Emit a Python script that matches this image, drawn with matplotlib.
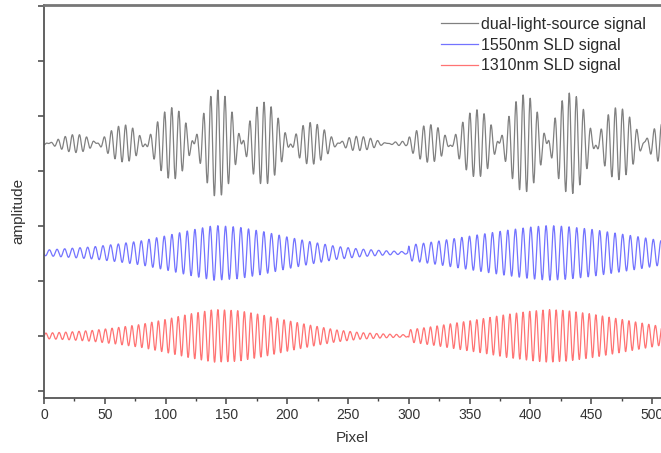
import numpy as np
import matplotlib
matplotlib.use("Agg")
import matplotlib.pyplot as plt
from matplotlib.ticker import MultipleLocator, NullFormatter

# Envelope amplitudes, for the two scan windows
seg1_pixel = [0, 20, 40, 60, 80, 100, 120, 140, 160, 180, 200, 220, 240, 260, 280, 299]
seg1_blue = [0.05, 0.08, 0.11, 0.16, 0.22, 0.31, 0.41, 0.50, 0.47, 0.39, 0.29, 0.20, 0.12, 0.07, 0.04, 0.02]
seg1_red = [0.05, 0.07, 0.10, 0.15, 0.21, 0.30, 0.40, 0.48, 0.46, 0.38, 0.28, 0.19, 0.11, 0.06, 0.035, 0.02]
seg2_pixel = [300, 320, 340, 360, 380, 400, 415, 430, 450, 470, 490, 508]
seg2_blue = [0.14, 0.20, 0.27, 0.34, 0.41, 0.47, 0.50, 0.48, 0.43, 0.36, 0.29, 0.22]
seg2_red = [0.11, 0.17, 0.24, 0.31, 0.39, 0.45, 0.48, 0.46, 0.40, 0.32, 0.24, 0.17]

# Fringe periods (pixels) and positions where both fringes are in phase
period_1550 = 6.3
period_1310 = 5.44
in_phase = [143, 394]

# Vertical offsets of the three traces
offset_dual, offset_1550, offset_1310 = 4.5, 2.51, 1.0

labels = ["dual-light-source signal", "1550nm SLD signal", "1310nm SLD signal"]
colors = ["#808080", "#7373ff", "#ff7373"]


def fringe(pix, env, period, centre):
    x = np.arange(pix[0], pix[-1] + 0.2, 0.2)
    e = np.interp(x, pix, env)
    return x, e * np.cos(2 * np.pi * (x - centre) / period)


xs, blue, red = [], [], []
for pix, eb, er, c in [(seg1_pixel, seg1_blue, seg1_red, in_phase[0]),
                       (seg2_pixel, seg2_blue, seg2_red, in_phase[1])]:
    x, b = fringe(pix, eb, period_1550, c)
    _, r = fringe(pix, er, period_1310, c)
    xs.append(x)
    blue.append(b)
    red.append(r)
x = np.concatenate(xs)
blue = np.concatenate(blue)
red = np.concatenate(red)
dual = blue + red

plt.rcParams["font.family"] = ["Liberation Sans", "DejaVu Sans"]

fig = plt.figure(figsize=(6.61, 4.53), dpi=100)
ax = fig.add_axes([44 / 661, 55 / 453, 1 - 44 / 661, 393 / 453])

ax.plot(x, dual + offset_dual, color=colors[0], lw=0.9, label=labels[0])
ax.plot(x, blue + offset_1550, color=colors[1], lw=0.9, label=labels[1])
ax.plot(x, red + offset_1310, color=colors[2], lw=0.9, label=labels[2])

ax.set_xlim(0, 507.4)
ax.set_ylim(-0.13, 7.02)
ax.xaxis.set_major_locator(MultipleLocator(50))
ax.xaxis.set_minor_locator(MultipleLocator(25))
ax.yaxis.set_major_locator(MultipleLocator(1))
ax.yaxis.set_major_formatter(NullFormatter())
ax.tick_params(axis="both", which="major", direction="out", length=4,
               width=1.1, color="#444444", labelsize=10, labelcolor="#333333")
ax.tick_params(axis="x", which="minor", direction="out", length=2.5,
               width=1.0, color="#444444")

for side in ["left", "bottom"]:
    ax.spines[side].set_color("#555555")
    ax.spines[side].set_linewidth(1.3)
ax.spines["top"].set_color("#777777")
ax.spines["top"].set_linewidth(2.0)
ax.spines["right"].set_visible(False)

ax.set_xlabel("Pixel", fontsize=11, color="#333333", labelpad=6)
ax.set_ylabel("amplitude", fontsize=11, color="#333333")
ax.yaxis.set_label_coords(-0.030, 0.475)

leg = ax.legend(loc="upper right", bbox_to_anchor=(0.995, 1.0), frameon=False,
                fontsize=11.5, handlelength=2.3, handletextpad=0.2,
                labelspacing=0.35, borderaxespad=0.35)
for t in leg.get_texts():
    t.set_color("#2a2a2a")

fig.savefig("out.png", dpi=100)
